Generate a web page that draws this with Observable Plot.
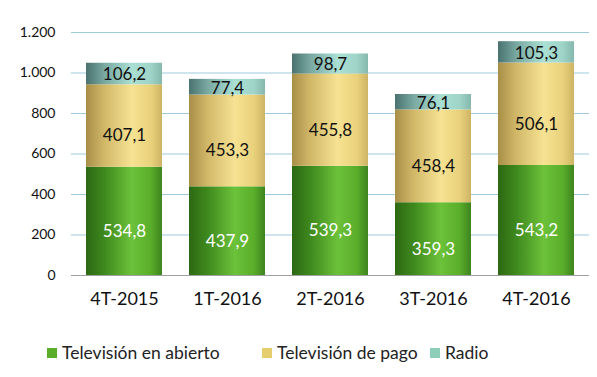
<!DOCTYPE html>
<html>
<head>
<meta charset="utf-8">
<script src="https://cdn.jsdelivr.net/npm/d3@7"></script>
<script src="https://cdn.jsdelivr.net/npm/@observablehq/plot@0.6"></script>
<style>
  html, body { margin: 0; padding: 0; background: #fff; }
  body { width: 597px; height: 377px; overflow: hidden; font-family: Lato, "Open Sans", sans-serif; }
  #legend { position: relative; height: 50px; font-size: 17.5px; color: #222; }
  .item { position: absolute; top: 22px; display: flex; align-items: center; white-space: nowrap; }
  .sw { width: 10px; height: 10px; margin-right: 5px; }
</style>
</head>
<body>
<div id="chart"></div>
<div id="legend"></div>
<script>
const periods = ["4T-2015", "1T-2016", "2T-2016", "3T-2016", "4T-2016"];
const series = ["Televisión en abierto", "Televisión de pago", "Radio"];
const abierto = [534.8, 437.9, 539.3, 359.3, 543.2];
const pago = [407.1, 453.3, 455.8, 458.4, 506.1];
const radio = [106.2, 77.4, 98.7, 76.1, 105.3];
const yTicks = [0, 200, 400, 600, 800, 1000, 1200];

const values = [abierto, pago, radio];
const data = [];
series.forEach((s, i) => periods.forEach((p, j) => data.push({period: p, series: s, value: values[i][j]})));

const loc = d3.formatLocale({decimal: ",", thousands: ".", grouping: [3], currency: ["", "€"]});
const fmtTick = loc.format(",.0f");
const fmtVal = loc.format(",.1f");

const fills = ["url(#gGreen)", "url(#gYellow)", "url(#gTeal)"];
const swatch = ["#5aae2a", "#e6cd6e", "#8ecdb8"];
const labelColor = {"Televisión en abierto": "#ffffff", "Televisión de pago": "#111", "Radio": "#111"};
const labelDy = {"Televisión en abierto": 10, "Televisión de pago": 10, "Radio": 1};

const chart = Plot.plot({
  width: 597,
  height: 320,
  marginTop: 32,
  marginBottom: 45,
  marginLeft: 71,
  marginRight: 8,
  style: {fontFamily: "Lato, 'Open Sans', sans-serif", background: "#fff"},
  x: {domain: periods, paddingInner: 0.266, paddingOuter: 0.133, label: null},
  y: {domain: [0, 1200], label: null},
  color: {domain: series, range: fills},
  marks: [
    Plot.ruleY(yTicks.filter(d => d > 0), {stroke: "#9ec9dd", strokeWidth: 1.2}),
    Plot.barY(data, Plot.stackY({x: "period", y: "value", fill: "series", order: series})),
    ...series.map(s => Plot.text(data, Plot.filter(d => d.series === s, Plot.stackY({
      x: "period", y: "value", z: "series", order: series,
      text: d => fmtVal(d.value),
      fill: labelColor[s], dy: labelDy[s], fontSize: 17
    })))),
    Plot.ruleY([0], {stroke: "#a0a0a0", strokeWidth: 1.2}),
    Plot.axisY({ticks: yTicks, tickFormat: fmtTick, tickSize: 0, tickPadding: 16, fontSize: 14, fill: "#111", label: null}),
    Plot.axisX({tickSize: 0, tickPadding: 17, fontSize: 18, fill: "#111", label: null})
  ]
});

// gradient defs
const ns = "http://www.w3.org/2000/svg";
const defs = document.createElementNS(ns, "defs");
const grads = {
  gGreen: [[0, "#2d6813"], [0.25, "#3f8a1e"], [0.6, "#6cc23a"], [0.85, "#5aae2a"], [1, "#3e8420"]],
  gYellow: [[0, "#a88f48"], [0.25, "#d2b96a"], [0.6, "#f6e292"], [0.85, "#ead27c"], [1, "#cdb465"]],
  gTeal: [[0, "#4a7270"], [0.25, "#7aaaa2"], [0.6, "#aadfd4"], [0.85, "#9fd4c8"], [1, "#86b8ae"]]
};
for (const [id, stops] of Object.entries(grads)) {
  const g = document.createElementNS(ns, "linearGradient");
  g.setAttribute("id", id);
  g.setAttribute("x1", "0"); g.setAttribute("x2", "1"); g.setAttribute("y1", "0"); g.setAttribute("y2", "0");
  for (const [o, c] of stops) {
    const st = document.createElementNS(ns, "stop");
    st.setAttribute("offset", o);
    st.setAttribute("stop-color", c);
    g.appendChild(st);
  }
  defs.appendChild(g);
}
chart.insertBefore(defs, chart.firstChild);
document.getElementById("chart").appendChild(chart);

// legend
const legend = document.getElementById("legend");
const lefts = [47, 262, 430];
series.forEach((s, i) => {
  const it = document.createElement("div");
  it.className = "item";
  it.style.left = lefts[i] + "px";
  const sw = document.createElement("span");
  sw.className = "sw";
  sw.style.background = swatch[i];
  const t = document.createElement("span");
  t.textContent = s;
  it.appendChild(sw); it.appendChild(t);
  legend.appendChild(it);
});
</script>
</body>
</html>
